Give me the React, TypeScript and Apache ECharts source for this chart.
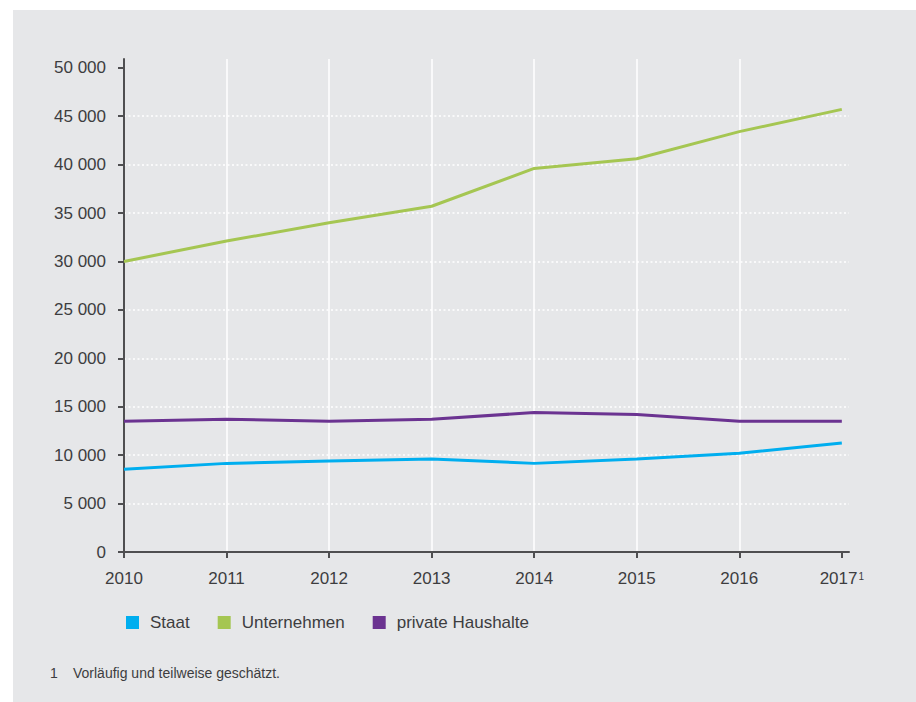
import React, { useEffect, useRef } from "react";
import * as echarts from "echarts";

const years = [2010, 2011, 2012, 2013, 2014, 2015, 2016, 2017];
const yearLabels = ["2010", "2011", "2012", "2013", "2014", "2015", "2016", "2017{sup|1}"];
const staat = [8550, 9150, 9400, 9600, 9150, 9600, 10200, 11250];
const unternehmen = [30000, 32100, 34000, 35700, 39600, 40600, 43400, 45700];
const haushalte = [13500, 13700, 13500, 13700, 14400, 14200, 13500, 13500];
const yTicks = [0, 5000, 10000, 15000, 20000, 25000, 30000, 35000, 40000, 45000, 50000];
const seriesNames = ["Staat", "Unternehmen", "private Haushalte"];
const footnote = "Vorläufig und teilweise geschätzt.";

const FONT = "'Liberation Sans', Arial, sans-serif";
const TEXT = "#3d3d3f";
const AXIS = "#4f4f51";

export default function App() {
  const ref = useRef<HTMLDivElement>(null);
  useEffect(() => {
    document.body.style.margin = "0";
    const chart = echarts.init(ref.current!, null, { renderer: "svg" });
    const fmtNum = (v: number) => (v === 0 ? "0" : String(v).replace(/\B(?=(\d{3})+(?!\d))/g, " "));
    const mk = (name: string, vals: number[], color: string) => ({
      name,
      type: "line",
      data: years.map((y, i) => [y, vals[i]]),
      showSymbol: false,
      symbol: "none",
      lineStyle: { color, width: 3 },
      itemStyle: { color },
      z: 5,
    });
    chart.setOption({
      animation: false,
      backgroundColor: "#ffffff",
      textStyle: { fontFamily: FONT },
      graphic: [
        {
          type: "rect",
          z: -100,
          silent: true,
          shape: { x: 13, y: 10, width: 903, height: 692 },
          style: { fill: "#e6e7e9" },
        },
        {
          type: "text",
          x: 50,
          y: 673,
          style: { text: "1", font: `14px ${FONT}`, fill: TEXT, verticalAlign: "middle" },
        },
        {
          type: "text",
          x: 73,
          y: 673,
          style: { text: footnote, font: `14px ${FONT}`, fill: TEXT, verticalAlign: "middle" },
        },
      ],
      grid: { left: 124, right: 67, top: 59, bottom: 150, containLabel: false },
      legend: {
        left: 121,
        top: 609,
        icon: "rect",
        itemWidth: 13,
        itemHeight: 13,
        itemGap: 28,
        data: seriesNames,
        textStyle: { fontSize: 17, color: TEXT, fontFamily: FONT, padding: [0, 0, 0, 6] },
      },
      xAxis: {
        type: "value",
        min: 2010,
        max: 2017.07,
        interval: 1,
        axisLine: { show: true, lineStyle: { color: AXIS, width: 2 } },
        axisTick: {
          show: true,
          length: 6,
          lineStyle: { color: AXIS, width: 2 },
          customValues: years,
        },
        axisLabel: {
          customValues: years,
          margin: 18,
          fontSize: 17,
          color: TEXT,
          fontFamily: FONT,
          formatter: (v: number) => {
            const i = years.indexOf(Math.round(v));
            return i >= 0 ? yearLabels[i] : "";
          },
          rich: {
            sup: { fontSize: 10, color: TEXT, fontFamily: FONT, padding: [0, 0, 4, 1] },
          },
        },
        splitLine: {
          show: true,
          showMaxLine: false,
          lineStyle: { color: "#ffffff", width: 1.5, type: "solid" },
        },
      },
      yAxis: {
        type: "value",
        min: 0,
        max: 50900,
        interval: 5000,
        axisLine: { show: true, lineStyle: { color: AXIS, width: 2 } },
        axisTick: {
          show: true,
          length: 6,
          lineStyle: { color: AXIS, width: 2 },
          customValues: yTicks,
        },
        axisLabel: {
          customValues: yTicks,
          margin: 18,
          fontSize: 17,
          color: TEXT,
          fontFamily: FONT,
          formatter: (v: number) => fmtNum(v),
        },
        splitLine: {
          show: true,
          showMaxLine: false,
          showMinLine: false,
          lineStyle: { color: "#ffffff", width: 1.5, type: [2, 2.5] },
        },
      },
      series: [
        mk(seriesNames[0], staat, "#00aeef"),
        mk(seriesNames[1], unternehmen, "#a5c652"),
        mk(seriesNames[2], haushalte, "#6b3391"),
      ],
    });
    return () => chart.dispose();
  }, []);
  return <div ref={ref} style={{ width: 916, height: 702 }} />;
}
